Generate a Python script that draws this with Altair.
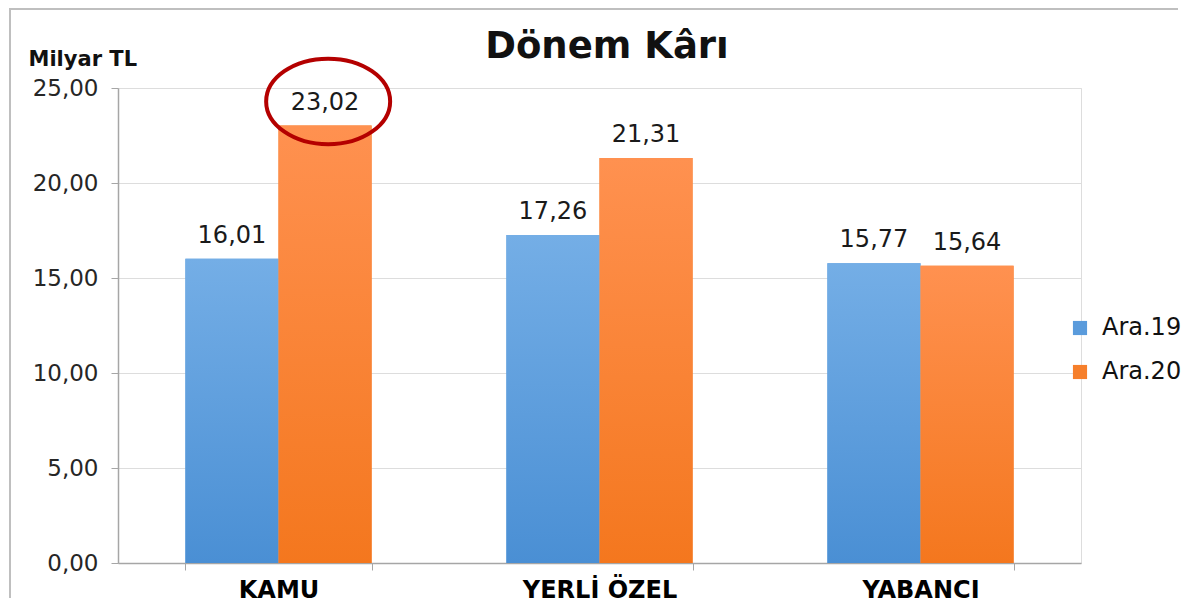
import altair as alt
import pandas as pd

categories = ["KAMU", "YERLİ ÖZEL", "YABANCI"]
ara19 = [16.01, 17.26, 15.77]
ara20 = [23.02, 21.31, 15.64]
series = ["Ara.19", "Ara.20"]
y_ticks = [0, 5, 10, 15, 20, 25]
title_text = "Dönem Kârı"

rows = []
for c, a, b in zip(categories, ara19, ara20):
    rows.append({"kategori": c, "seri": series[0], "deger": a})
    rows.append({"kategori": c, "seri": series[1], "deger": b})
df = pd.DataFrame(rows)

FONT = "DejaVu Sans"
W, H = 963, 475

x_enc = alt.X("kategori:N", sort=categories,
              scale=alt.Scale(paddingInner=0.42, paddingOuter=0.21),
              axis=alt.Axis(title=None, labelAngle=0, labelFont=FONT, labelFontSize=24,
                            labelFontWeight="bold", labelColor="#000000", labelPadding=8,
                            domainColor="#A6A6A6", domainWidth=1.5, tickColor="#A6A6A6",
                            tickSize=7, tickBand="extent", grid=False))
y_enc = alt.Y("deger:Q", scale=alt.Scale(domain=[0, 25], nice=False, zero=True),
              axis=alt.Axis(values=y_ticks,
                            labelExpr="replace(format(datum.value, '.2f'), '.', ',')",
                            labelFont=FONT, labelFontSize=23, labelColor="#262626",
                            labelPadding=13, tickSize=7, tickColor="#A6A6A6",
                            domainColor="#A6A6A6", domainWidth=1.5,
                            gridColor="#DDDDDD", gridWidth=1,
                            title="Milyar TL", titleAngle=0, titleFont=FONT,
                            titleFontSize=21, titleFontWeight="bold", titleColor="#111111",
                            titleAlign="left", titleBaseline="alphabetic",
                            titleX=-90, titleY=-23))
xo = alt.XOffset("seri:N", sort=series)

base = alt.Chart(df)

legend_bars = base.mark_bar().encode(
    x=x_enc, y=y_enc, xOffset=xo,
    color=alt.Color("seri:N", sort=series,
                    scale=alt.Scale(domain=series, range=["#5A9BDC", "#F67F2B"]),
                    legend=alt.Legend(title=None, orient="none", legendX=950, legendY=228,
                                      symbolType="square", symbolSize=200,
                                      symbolStrokeWidth=0, labelFont=FONT,
                                      labelFontSize=24, labelColor="#111111",
                                      rowPadding=20, labelOffset=10)),
)

grad_blue = alt.Gradient(gradient="linear", x1=0, x2=0, y1=0, y2=1,
                         stops=[alt.GradientStop(color="#74AEE6", offset=0),
                                alt.GradientStop(color="#4A8FD4", offset=1)])
grad_orange = alt.Gradient(gradient="linear", x1=0, x2=0, y1=0, y2=1,
                           stops=[alt.GradientStop(color="#FF9150", offset=0),
                                  alt.GradientStop(color="#F4771E", offset=1)])

blue_bars = base.transform_filter(alt.datum.seri == series[0]).mark_bar(
    color=grad_blue).encode(x=x_enc, y=y_enc, xOffset=xo)
orange_bars = base.transform_filter(alt.datum.seri == series[1]).mark_bar(
    color=grad_orange).encode(x=x_enc, y=y_enc, xOffset=xo)

labels = base.transform_calculate(
    etiket="replace(format(datum.deger, '.2f'), '.', ',')"
).mark_text(font=FONT, fontSize=24, color="#1a1a1a", baseline="alphabetic", dy=-16).encode(
    x=x_enc, y=y_enc, xOffset=xo, text="etiket:N")

# red ellipse annotation around the highest bar label
ellipse_path = "M -0.95,-0.39 A 1,0.69 0 1,0 1.05,-0.39 A 1,0.69 0 1,0 -0.95,-0.39 Z"
ellipse = base.transform_filter(
    (alt.datum.kategori == categories[0]) & (alt.datum.seri == series[1])
).mark_point(shape=ellipse_path, size=15376, filled=False, stroke="#B40000",
             strokeWidth=4, opacity=1).encode(x=x_enc, y=y_enc, xOffset=xo)

title = alt.Chart(pd.DataFrame({"t": [title_text]})).mark_text(
    font=FONT, fontSize=37, fontWeight="bold", color="#111111",
    align="center", baseline="alphabetic").encode(
    x=alt.value(489), y=alt.value(-30), text="t:N")

frame_src = alt.Chart(pd.DataFrame({"a": [0]}))
frame_top = frame_src.mark_rule(color="#BFBFBF", strokeWidth=2).encode(
    x=alt.value(-109), x2=alt.value(1060), y=alt.value(-79))
frame_left = frame_src.mark_rule(color="#BFBFBF", strokeWidth=2).encode(
    x=alt.value(-108), y=alt.value(-80), y2=alt.value(510))

chart = alt.layer(frame_top, frame_left, legend_bars, blue_bars, orange_bars, labels,
                  ellipse, title).properties(
    width=W, height=H,
    autosize=alt.AutoSizeParams(type="none"),
    padding={"left": 110, "top": 80, "right": 105, "bottom": 43},
).configure_view(stroke=None).configure(background="white")

chart.save("out.html", embed_options={"renderer": "svg", "actions": False})
